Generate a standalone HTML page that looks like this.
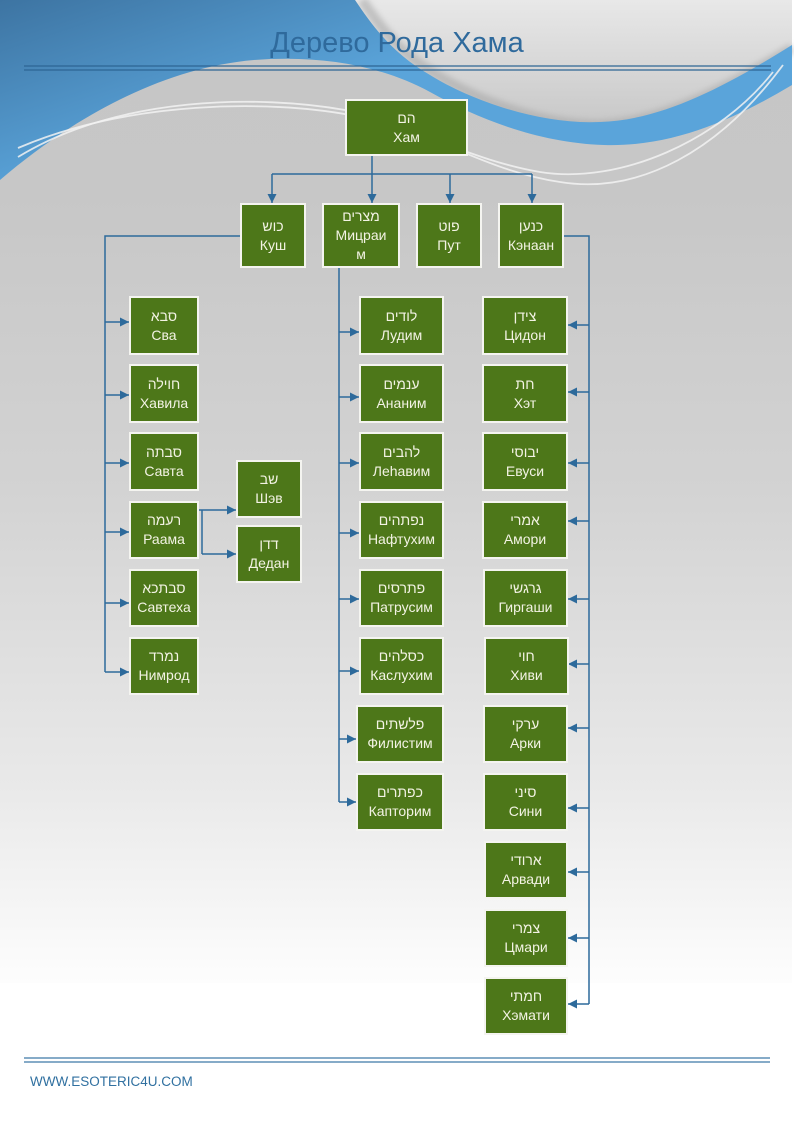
<!DOCTYPE html>
<html>
<head>
<meta charset="utf-8">
<style>
  html,body{margin:0;padding:0;}
  body{width:794px;height:1123px;position:relative;overflow:hidden;background:#fff;font-family:"Liberation Sans","DejaVu Sans",sans-serif;}
  .n{position:absolute;box-sizing:border-box;background:#4d7719;border:2px solid #f4f4f0;color:#f3f3e4;font-size:14px;line-height:19px;display:flex;flex-direction:column;align-items:center;justify-content:center;text-align:center;}
  .n div{white-space:nowrap;}
  .title{position:absolute;left:0;width:794px;top:27px;text-align:center;font-size:29px;color:#2f6a9c;letter-spacing:0px;}
  .foot{position:absolute;left:30px;top:1074px;font-size:13.5px;color:#3070a0;}
</style>
</head>
<body>
<svg width="794" height="1123" style="position:absolute;left:0;top:0" xmlns="http://www.w3.org/2000/svg">
  <defs>
    <linearGradient id="bg" x1="0" y1="0" x2="0" y2="983" gradientUnits="userSpaceOnUse">
      <stop offset="0" stop-color="#c6c6c6"/>
      <stop offset="0.2" stop-color="#c7c7c7"/>
      <stop offset="0.5" stop-color="#d3d3d3"/>
      <stop offset="0.8" stop-color="#e9e9e9"/>
      <stop offset="1" stop-color="#fdfdfd"/>
    </linearGradient>
    <linearGradient id="lt" x1="0" y1="0" x2="0" y2="125" gradientUnits="userSpaceOnUse">
      <stop offset="0" stop-color="#e8e8e8"/>
      <stop offset="1" stop-color="#c8c8c8"/>
    </linearGradient>
    <linearGradient id="bl" x1="0" y1="0" x2="60" y2="180" gradientUnits="userSpaceOnUse">
      <stop offset="0" stop-color="#3d74a2"/>
      <stop offset="1" stop-color="#5aa4da"/>
    </linearGradient>
    <filter id="blur" x="-10%" y="-10%" width="120%" height="120%"><feGaussianBlur stdDeviation="3"/></filter>
    <marker id="ah" markerUnits="userSpaceOnUse" markerWidth="10" markerHeight="10" refX="9" refY="4.5" orient="auto">
      <path d="M0,0 L9,4.5 L0,9 z" fill="#2d6a9b"/>
    </marker>
  </defs>
  <rect x="0" y="0" width="792" height="983" fill="url(#bg)"/>
  <!-- light top-right region -->
  <path d="M355,0 L792,0 L792,45 C720,90 660,120 600,122 C540,125 470,100 430,75 C395,55 375,30 355,0 Z" fill="url(#lt)"/>
  <!-- shadow along edge -->
  <path d="M362,0 C382,30 402,55 437,75 C477,100 540,125 600,125 C660,122 720,92 792,48" fill="none" stroke="#a9a9a9" stroke-width="10" opacity="0.6" filter="url(#blur)"/>
  <!-- blue shape -->
  <path d="M0,0 L355,0 C375,30 395,55 430,75 C470,100 540,125 600,122 C660,120 720,90 792,45 L792,85 C730,122 670,147 604,145 C540,143 480,120 430,92 C380,65 320,55 254,60 C160,68 70,120 0,180 Z" fill="url(#bl)"/>
  <!-- white swooshes -->
  <path d="M18,157 C120,95 260,95 345,110 C420,125 480,170 560,182 C640,195 720,150 783,65" fill="none" stroke="#f2f2f2" stroke-width="1.8" opacity="0.85"/>
  <path d="M18,148 C130,100 270,100 350,115 C420,128 470,160 540,172 C620,185 720,140 773,72" fill="none" stroke="#f2f2f2" stroke-width="1.8" opacity="0.85"/>
  <!-- header lines -->
  <line x1="24" y1="66" x2="771" y2="66" stroke="#2d6594" stroke-width="1.3"/>
  <line x1="24" y1="70" x2="771" y2="70" stroke="#2d6594" stroke-width="1.3"/>
  <!-- footer lines -->
  <line x1="24" y1="1058" x2="770" y2="1058" stroke="#5f8fb6" stroke-width="1.5"/>
  <line x1="24" y1="1062" x2="770" y2="1062" stroke="#5f8fb6" stroke-width="1.5"/>

  <g stroke="#2d6a9b" stroke-width="1.5" fill="none">
    <!-- top level -->
    <line x1="372" y1="156" x2="372" y2="174"/>
    <line x1="272" y1="174" x2="532" y2="174"/>
    <line x1="272" y1="174" x2="272" y2="203" marker-end="url(#ah)"/>
    <line x1="372" y1="174" x2="372" y2="203" marker-end="url(#ah)"/>
    <line x1="450" y1="174" x2="450" y2="203" marker-end="url(#ah)"/>
    <line x1="532" y1="174" x2="532" y2="203" marker-end="url(#ah)"/>
    <!-- Kush -->
    <polyline points="240,236 105,236 105,672"/>
    <line x1="105" y1="322" x2="129" y2="322" marker-end="url(#ah)"/>
    <line x1="105" y1="395" x2="129" y2="395" marker-end="url(#ah)"/>
    <line x1="105" y1="463" x2="129" y2="463" marker-end="url(#ah)"/>
    <line x1="105" y1="532" x2="129" y2="532" marker-end="url(#ah)"/>
    <line x1="105" y1="603" x2="129" y2="603" marker-end="url(#ah)"/>
    <line x1="105" y1="672" x2="129" y2="672" marker-end="url(#ah)"/>
    <!-- Raama -->
    <line x1="198" y1="510" x2="236" y2="510" marker-end="url(#ah)"/>
    <polyline points="202,510 202,554"/>
    <line x1="202" y1="554" x2="236" y2="554" marker-end="url(#ah)"/>
    <!-- Mitsraim -->
    <line x1="339" y1="268" x2="339" y2="802"/>
    <line x1="339" y1="332" x2="359" y2="332" marker-end="url(#ah)"/>
    <line x1="339" y1="397" x2="359" y2="397" marker-end="url(#ah)"/>
    <line x1="339" y1="463" x2="359" y2="463" marker-end="url(#ah)"/>
    <line x1="339" y1="533" x2="359" y2="533" marker-end="url(#ah)"/>
    <line x1="339" y1="599" x2="359" y2="599" marker-end="url(#ah)"/>
    <line x1="339" y1="671" x2="359" y2="671" marker-end="url(#ah)"/>
    <line x1="339" y1="739" x2="356" y2="739" marker-end="url(#ah)"/>
    <line x1="339" y1="802" x2="356" y2="802" marker-end="url(#ah)"/>
    <!-- Kenaan -->
    <polyline points="564,236 589,236 589,1004"/>
    <line x1="589" y1="325" x2="568" y2="325" marker-end="url(#ah)"/>
    <line x1="589" y1="392" x2="568" y2="392" marker-end="url(#ah)"/>
    <line x1="589" y1="463" x2="568" y2="463" marker-end="url(#ah)"/>
    <line x1="589" y1="521" x2="568" y2="521" marker-end="url(#ah)"/>
    <line x1="589" y1="599" x2="568" y2="599" marker-end="url(#ah)"/>
    <line x1="589" y1="664" x2="568" y2="664" marker-end="url(#ah)"/>
    <line x1="589" y1="728" x2="568" y2="728" marker-end="url(#ah)"/>
    <line x1="589" y1="808" x2="568" y2="808" marker-end="url(#ah)"/>
    <line x1="589" y1="872" x2="568" y2="872" marker-end="url(#ah)"/>
    <line x1="589" y1="938" x2="568" y2="938" marker-end="url(#ah)"/>
    <line x1="589" y1="1004" x2="568" y2="1004" marker-end="url(#ah)"/>
  </g>
</svg>

<div class="title">Дерево Рода Хама</div>

<!-- Root -->
<div class="n" style="left:345px;top:99px;width:123px;height:57px;"><div>הם</div><div>Хам</div></div>

<!-- Level 1 -->
<div class="n" style="left:240px;top:203px;width:66px;height:65px;"><div>כוש</div><div>Куш</div></div>
<div class="n" style="left:322px;top:203px;width:78px;height:65px;"><div>מצרים</div><div>Мицраи</div><div>м</div></div>
<div class="n" style="left:416px;top:203px;width:66px;height:65px;"><div>פוט</div><div>Пут</div></div>
<div class="n" style="left:498px;top:203px;width:66px;height:65px;"><div>כנען</div><div>Кэнаан</div></div>

<!-- Kush children -->
<div class="n" style="left:129px;top:296px;width:70px;height:59px;"><div>סבא</div><div>Сва</div></div>
<div class="n" style="left:129px;top:364px;width:70px;height:59px;"><div>חוילה</div><div>Хавила</div></div>
<div class="n" style="left:129px;top:432px;width:70px;height:59px;"><div>סבתה</div><div>Савта</div></div>
<div class="n" style="left:129px;top:501px;width:70px;height:58px;"><div>רעמה</div><div>Раама</div></div>
<div class="n" style="left:129px;top:569px;width:70px;height:58px;"><div>סבתכא</div><div>Савтеха</div></div>
<div class="n" style="left:129px;top:637px;width:70px;height:58px;"><div>נמרד</div><div>Нимрод</div></div>
<div class="n" style="left:236px;top:460px;width:66px;height:58px;"><div>שב</div><div>Шэв</div></div>
<div class="n" style="left:236px;top:525px;width:66px;height:58px;"><div>דדן</div><div>Дедан</div></div>

<!-- Mitsraim children -->
<div class="n" style="left:359px;top:296px;width:85px;height:59px;"><div>לודים</div><div>Лудим</div></div>
<div class="n" style="left:359px;top:364px;width:85px;height:59px;"><div>ענמים</div><div>Ананим</div></div>
<div class="n" style="left:359px;top:432px;width:85px;height:59px;"><div>להבים</div><div>Леhавим</div></div>
<div class="n" style="left:359px;top:501px;width:85px;height:58px;"><div>נפתהים</div><div>Нафтухим</div></div>
<div class="n" style="left:359px;top:569px;width:85px;height:58px;"><div>פתרסים</div><div>Патрусим</div></div>
<div class="n" style="left:359px;top:637px;width:85px;height:58px;"><div>כסלהים</div><div>Каслухим</div></div>
<div class="n" style="left:356px;top:705px;width:88px;height:58px;"><div>פלשתים</div><div>Филистим</div></div>
<div class="n" style="left:356px;top:773px;width:88px;height:58px;"><div>כפתרים</div><div>Капторим</div></div>

<!-- Kenaan children -->
<div class="n" style="left:482px;top:296px;width:86px;height:59px;"><div>צידן</div><div>Цидон</div></div>
<div class="n" style="left:482px;top:364px;width:86px;height:59px;"><div>חת</div><div>Хэт</div></div>
<div class="n" style="left:482px;top:432px;width:86px;height:59px;"><div>יבוסי</div><div>Евуси</div></div>
<div class="n" style="left:482px;top:501px;width:86px;height:58px;"><div>אמרי</div><div>Амори</div></div>
<div class="n" style="left:483px;top:569px;width:85px;height:58px;"><div>גרגשי</div><div>Гиргаши</div></div>
<div class="n" style="left:484px;top:637px;width:85px;height:58px;"><div>חוי</div><div>Хиви</div></div>
<div class="n" style="left:483px;top:705px;width:85px;height:58px;"><div>ערקי</div><div>Арки</div></div>
<div class="n" style="left:483px;top:773px;width:85px;height:58px;"><div>סיני</div><div>Сини</div></div>
<div class="n" style="left:484px;top:841px;width:84px;height:58px;"><div>ארודי</div><div>Арвади</div></div>
<div class="n" style="left:484px;top:909px;width:84px;height:58px;"><div>צמרי</div><div>Цмари</div></div>
<div class="n" style="left:484px;top:977px;width:84px;height:58px;"><div>חמתי</div><div>Хэмати</div></div>

<div class="foot">WWW.ESOTERIC4U.COM</div>
</body>
</html>
